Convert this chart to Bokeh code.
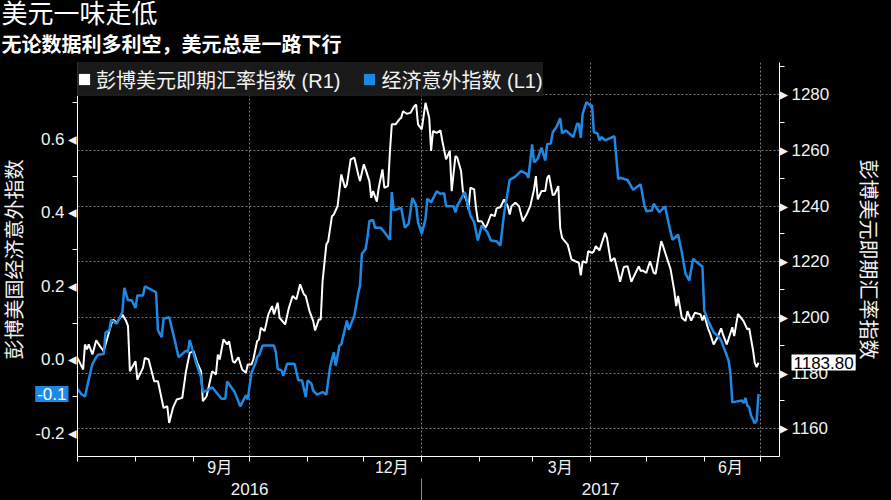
import pandas as pd
from bokeh.plotting import figure
from bokeh.models import (ColumnDataSource, Range1d, LinearAxis, DatetimeAxis, FixedTicker, Grid,
                          CustomJSTickFormatter, Legend, LegendItem, Label, Title)
from bokeh.embed import file_html
from bokeh.resources import INLINE

# Bloomberg dollar spot index (R1)
usd_dates = [
    "2016-07-01", "2016-07-04", "2016-07-05", "2016-07-06", "2016-07-07", "2016-07-09", "2016-07-11",
    "2016-07-13", "2016-07-15", "2016-07-17", "2016-07-19", "2016-07-20", "2016-07-22", "2016-07-25",
    "2016-07-27", "2016-07-28", "2016-07-29", "2016-08-01", "2016-08-02", "2016-08-05", "2016-08-06",
    "2016-08-08", "2016-08-11", "2016-08-13", "2016-08-16", "2016-08-18", "2016-08-19", "2016-08-21",
    "2016-08-23", "2016-08-26", "2016-08-28", "2016-08-30", "2016-09-01", "2016-09-03", "2016-09-05",
    "2016-09-06", "2016-09-08", "2016-09-11", "2016-09-13", "2016-09-14", "2016-09-15", "2016-09-17",
    "2016-09-19", "2016-09-20", "2016-09-22", "2016-09-23", "2016-09-25", "2016-09-27", "2016-09-29",
    "2016-09-30", "2016-10-02", "2016-10-03", "2016-10-05", "2016-10-06", "2016-10-07", "2016-10-09",
    "2016-10-11", "2016-10-13", "2016-10-14", "2016-10-16", "2016-10-17", "2016-10-20", "2016-10-22",
    "2016-10-24", "2016-10-26", "2016-10-28", "2016-10-30", "2016-10-31", "2016-11-02", "2016-11-04",
    "2016-11-05", "2016-11-07", "2016-11-08", "2016-11-09", "2016-11-11", "2016-11-12", "2016-11-14",
    "2016-11-15", "2016-11-17", "2016-11-19", "2016-11-21", "2016-11-22", "2016-11-24", "2016-11-26",
    "2016-11-28", "2016-11-29", "2016-12-01", "2016-12-02", "2016-12-04", "2016-12-05", "2016-12-06",
    "2016-12-08", "2016-12-09", "2016-12-11", "2016-12-12", "2016-12-14", "2016-12-15", "2016-12-16",
    "2016-12-18", "2016-12-20", "2016-12-21", "2016-12-22", "2016-12-24", "2016-12-26", "2016-12-28",
    "2016-12-29", "2016-12-30", "2017-01-01", "2017-01-03", "2017-01-05", "2017-01-06", "2017-01-07",
    "2017-01-09", "2017-01-11", "2017-01-12", "2017-01-14", "2017-01-16", "2017-01-17", "2017-01-19",
    "2017-01-20", "2017-01-22", "2017-01-23", "2017-01-25", "2017-01-26", "2017-01-27", "2017-01-29",
    "2017-01-30", "2017-01-31", "2017-02-02", "2017-02-04", "2017-02-05", "2017-02-07", "2017-02-09",
    "2017-02-10", "2017-02-12", "2017-02-14", "2017-02-16", "2017-02-17", "2017-02-18", "2017-02-20",
    "2017-02-22", "2017-02-24", "2017-02-26", "2017-02-28", "2017-03-02", "2017-03-03", "2017-03-04",
    "2017-03-06", "2017-03-08", "2017-03-09", "2017-03-10", "2017-03-12", "2017-03-13", "2017-03-15",
    "2017-03-16", "2017-03-17", "2017-03-20", "2017-03-22", "2017-03-24", "2017-03-26", "2017-03-27",
    "2017-03-28", "2017-03-30", "2017-03-31", "2017-04-02", "2017-04-03", "2017-04-04", "2017-04-06",
    "2017-04-09", "2017-04-10", "2017-04-12", "2017-04-14", "2017-04-16", "2017-04-17", "2017-04-19",
    "2017-04-21", "2017-04-23", "2017-04-24", "2017-04-27", "2017-04-28", "2017-04-29", "2017-05-01",
    "2017-05-03", "2017-05-05", "2017-05-06", "2017-05-09", "2017-05-10", "2017-05-12", "2017-05-14",
    "2017-05-16", "2017-05-17", "2017-05-18", "2017-05-20", "2017-05-22", "2017-05-23", "2017-05-25",
    "2017-05-27", "2017-05-30", "2017-05-31", "2017-06-01", "2017-06-03", "2017-06-04", "2017-06-06",
    "2017-06-08", "2017-06-10", "2017-06-11", "2017-06-13", "2017-06-16", "2017-06-17", "2017-06-19",
    "2017-06-22", "2017-06-24", "2017-06-25", "2017-06-27", "2017-06-28", "2017-06-29", "2017-06-30",
]
usd_values = [
    1185.5, 1181.3, 1190.3, 1188.5, 1190.3, 1186.7, 1191.8,
    1189.7, 1187.9, 1192.7, 1197.5, 1199.3, 1198.1, 1201.1,
    1198.7, 1196.9, 1180.7, 1184.3, 1177.7, 1181.9, 1185.5,
    1184.9, 1177.1, 1177.1, 1167.5, 1168.1, 1162.1, 1167.5,
    1170.5, 1171.1, 1180.7, 1187.3, 1187.9, 1183.7, 1180.7,
    1169.9, 1171.7, 1180.7, 1179.5, 1186.7, 1184.9, 1192.1,
    1190.3, 1191.5, 1184.3, 1183.7, 1185.7, 1181.3, 1180.1,
    1183.1, 1183.1, 1185.0, 1191.5, 1192.1, 1196.3, 1195.1,
    1201.1, 1204.1, 1201.1, 1205.3, 1199.9, 1197.5, 1203.5,
    1207.7, 1206.5, 1211.9, 1208.3, 1207.7, 1202.3, 1198.7,
    1195.3, 1199.3, 1199.3, 1213.1, 1226.2, 1227.4, 1236.4,
    1237.0, 1240.0, 1251.4, 1246.6, 1247.8, 1256.8, 1257.4,
    1251.4, 1249.0, 1255.0, 1253.2, 1249.0, 1243.0, 1245.4,
    1241.6, 1246.6, 1253.2, 1246.6, 1247.2, 1259.8, 1269.4,
    1269.4, 1271.2, 1271.7, 1274.1, 1273.2, 1273.5, 1275.9,
    1276.5, 1269.4, 1267.6, 1277.1, 1271.7, 1259.8, 1267.0,
    1266.3, 1267.2, 1263.4, 1256.8, 1259.8, 1245.4, 1258.0,
    1257.4, 1252.6, 1245.4, 1241.8, 1238.8, 1246.6, 1246.0,
    1239.4, 1234.6, 1234.6, 1232.2, 1233.4, 1237.0, 1236.4,
    1239.2, 1239.6, 1242.4, 1240.0, 1237.0, 1240.0, 1241.2,
    1240.0, 1234.6, 1237.0, 1240.0, 1246.0, 1250.8, 1242.4,
    1245.4, 1245.4, 1250.0, 1251.1, 1244.0, 1244.2, 1247.2,
    1232.2, 1228.6, 1226.2, 1220.9, 1220.2, 1219.6, 1215.1,
    1220.2, 1219.6, 1223.8, 1223.2, 1223.8, 1225.6, 1224.1,
    1230.4, 1228.6, 1220.2, 1221.4, 1216.0, 1212.8, 1218.1,
    1218.4, 1212.8, 1214.2, 1218.4, 1216.7, 1216.9, 1216.0,
    1220.2, 1216.0, 1215.7, 1227.4, 1225.6, 1221.4, 1217.3,
    1209.5, 1204.1, 1207.7, 1199.9, 1198.7, 1202.3, 1198.9,
    1201.7, 1201.1, 1198.9, 1200.8, 1196.1, 1194.5, 1190.3,
    1192.7, 1196.1, 1193.9, 1190.3, 1196.5, 1193.3, 1201.3,
    1198.7, 1195.7, 1196.1, 1188.5, 1183.7, 1182.2, 1183.8,
]

# Bloomberg US economic surprise index (L1)
surprise_dates = [
    "2016-07-01", "2016-07-03", "2016-07-05", "2016-07-07", "2016-07-09", "2016-07-11", "2016-07-12",
    "2016-07-15", "2016-07-16", "2016-07-18", "2016-07-19", "2016-07-22", "2016-07-25", "2016-07-26",
    "2016-07-28", "2016-07-30", "2016-08-01", "2016-08-02", "2016-08-05", "2016-08-06", "2016-08-12",
    "2016-08-13", "2016-08-15", "2016-08-16", "2016-08-19", "2016-08-22", "2016-08-24", "2016-08-28",
    "2016-08-29", "2016-08-30", "2016-09-02", "2016-09-05", "2016-09-06", "2016-09-08", "2016-09-11",
    "2016-09-16", "2016-09-18", "2016-09-19", "2016-09-23", "2016-09-26", "2016-09-29", "2016-09-30",
    "2016-10-02", "2016-10-04", "2016-10-05", "2016-10-06", "2016-10-08", "2016-10-14", "2016-10-15",
    "2016-10-16", "2016-10-18", "2016-10-19", "2016-10-21", "2016-10-25", "2016-10-27", "2016-10-29",
    "2016-10-31", "2016-11-01", "2016-11-03", "2016-11-04", "2016-11-06", "2016-11-09", "2016-11-11",
    "2016-11-13", "2016-11-15", "2016-11-16", "2016-11-18", "2016-11-19", "2016-11-22", "2016-11-23",
    "2016-11-26", "2016-11-28", "2016-11-29", "2016-11-30", "2016-12-02", "2016-12-03", "2016-12-04",
    "2016-12-06", "2016-12-07", "2016-12-10", "2016-12-12", "2016-12-15", "2016-12-16", "2016-12-17",
    "2016-12-21", "2016-12-23", "2016-12-25", "2016-12-27", "2016-12-29", "2016-12-30", "2017-01-01",
    "2017-01-03", "2017-01-04", "2017-01-06", "2017-01-09", "2017-01-11", "2017-01-13", "2017-01-14",
    "2017-01-18", "2017-01-19", "2017-01-20", "2017-01-24", "2017-01-26", "2017-01-27", "2017-01-29",
    "2017-01-31", "2017-02-02", "2017-02-05", "2017-02-07", "2017-02-10", "2017-02-12", "2017-02-14",
    "2017-02-17", "2017-02-20", "2017-02-23", "2017-02-26", "2017-02-27", "2017-03-01", "2017-03-02",
    "2017-03-04", "2017-03-06", "2017-03-08", "2017-03-09", "2017-03-11", "2017-03-12", "2017-03-14",
    "2017-03-16", "2017-03-17", "2017-03-19", "2017-03-23", "2017-03-25", "2017-03-26", "2017-03-27",
    "2017-03-28", "2017-03-30", "2017-04-01", "2017-04-02", "2017-04-03", "2017-04-05", "2017-04-06",
    "2017-04-07", "2017-04-09", "2017-04-14", "2017-04-16", "2017-04-17", "2017-04-21", "2017-04-24",
    "2017-04-28", "2017-04-30", "2017-05-01", "2017-05-04", "2017-05-05", "2017-05-08", "2017-05-11",
    "2017-05-13", "2017-05-15", "2017-05-18", "2017-05-20", "2017-05-22", "2017-05-24", "2017-05-26",
    "2017-05-28", "2017-05-31", "2017-06-01", "2017-06-03", "2017-06-06", "2017-06-08", "2017-06-10",
    "2017-06-14", "2017-06-15", "2017-06-16", "2017-06-21", "2017-06-22", "2017-06-23", "2017-06-24",
    "2017-06-25", "2017-06-26", "2017-06-28", "2017-06-29", "2017-06-30",
]
surprise_values = [
    -0.079, -0.093, -0.100, -0.054, -0.011, 0.007, 0.014,
    0.016, 0.075, 0.080, 0.109, 0.098, 0.130, 0.196,
    0.162, 0.162, 0.141, 0.175, 0.175, 0.200, 0.184,
    0.080, 0.062, 0.112, 0.116, 0.053, 0.007, 0.025,
    0.021, 0.054, -0.002, -0.047, -0.088, -0.084, -0.075,
    -0.106, -0.106, -0.059, -0.088, -0.127, -0.097, -0.108,
    -0.035, -0.011, 0.007, 0.012, 0.039, 0.039, 0.021,
    -0.025, -0.029, -0.043, -0.011, -0.011, -0.056, -0.056,
    -0.102, -0.056, -0.065, -0.084, -0.095, -0.088, -0.095,
    -0.020, 0.021, -0.016, 0.039, 0.042, 0.107, 0.082,
    0.121, 0.180, 0.202, 0.289, 0.302, 0.334, 0.378,
    0.381, 0.360, 0.360, 0.348, 0.327, 0.457, 0.407,
    0.414, 0.360, 0.371, 0.441, 0.420, 0.375, 0.343,
    0.384, 0.439, 0.429, 0.459, 0.452, 0.454, 0.418,
    0.418, 0.402, 0.420, 0.457, 0.416, 0.393, 0.375,
    0.325, 0.366, 0.348, 0.325, 0.323, 0.311, 0.398,
    0.490, 0.499, 0.514, 0.507, 0.496, 0.587, 0.538,
    0.548, 0.578, 0.543, 0.587, 0.589, 0.620, 0.634,
    0.658, 0.617, 0.625, 0.607, 0.643, 0.643, 0.605,
    0.670, 0.702, 0.693, 0.693, 0.620, 0.616, 0.598,
    0.607, 0.598, 0.609, 0.493, 0.496, 0.490, 0.463,
    0.478, 0.420, 0.405, 0.407, 0.425, 0.402, 0.418,
    0.371, 0.327, 0.341, 0.293, 0.234, 0.216, 0.275,
    0.266, 0.254, 0.134, 0.107, 0.075, 0.066, 0.053,
    -0.002, -0.038, -0.116, -0.111, -0.118, -0.104, -0.125,
    -0.129, -0.152, -0.173, -0.165, -0.093,
]

# axes / ticks
month_starts = ["2016-07-01", "2016-08-01", "2016-09-01", "2016-10-01", "2016-11-01", "2016-12-01",
                "2017-01-01", "2017-02-01", "2017-03-01", "2017-04-01", "2017-05-01", "2017-06-01",
                "2017-07-01"]
quarter_starts = ["2016-10-01", "2017-01-01", "2017-04-01", "2017-07-01"]
month_label_dates = ["2016-09-15", "2016-12-16", "2017-03-16", "2017-06-15"]
month_labels = ["9月", "12月", "3月", "6月"]
year_labels = ["2016", "2017"]
surprise_ticks = [-0.2, 0.0, 0.2, 0.4, 0.6]
surprise_minor = [-0.1, 0.1, 0.3, 0.5, 0.7]
usd_ticks = [1160, 1180, 1200, 1220, 1240, 1260, 1280]
usd_minor = [1170, 1190, 1210, 1230, 1250, 1270, 1290]

BLUE = "#1e88e5"
TXT = "#f2f2f2"
GRID = "#7a7a7a"
FONT = "Liberation Sans, Noto Sans CJK SC"
TRI_FONT = "Liberation Sans, DejaVu Sans"
TAG_W_LEFT = 33     # width the left value tag takes in its side panel
TAG_W_RIGHT = 65    # width the right value tag takes in its side panel


def ms(dates):
    d = pd.to_datetime(dates) - pd.Timestamp("1970-01-01")
    return [int(v) for v in d // pd.Timedelta(milliseconds=1)]


x_start = ms(["2016-07-01"])[0]
x_end = ms(["2017-07-11 05:00"])[0]
new_year = ms(["2017-01-01"])[0]
year_centers = [(x_start + new_year) // 2, (new_year + x_end) // 2]

p = figure(width=891, height=500, x_range=Range1d(x_start, x_end), y_range=Range1d(-0.2635, 0.81),
           x_axis_type=None, y_axis_type=None,
           output_backend="svg", toolbar_location=None,
           background_fill_color="black", border_fill_color="black", outline_line_color=None,
           min_border_left=77, min_border_right=112, min_border_top=62, min_border_bottom=44)
p.grid.visible = False
p.extra_y_ranges = {"usd": Range1d(1150.05, 1291.6)}

# grid
p.add_layout(Grid(dimension=0, ticker=FixedTicker(ticks=ms(quarter_starts)),
                  grid_line_color=GRID, grid_line_dash="2 2", grid_line_width=1))
p.add_layout(Grid(dimension=1, ticker=FixedTicker(ticks=usd_ticks), y_range_name="usd",
                  grid_line_color=GRID, grid_line_dash="2 2", grid_line_width=1))

# lines
usd_src = ColumnDataSource(data=dict(date=pd.to_datetime(usd_dates), value=usd_values))
sur_src = ColumnDataSource(data=dict(date=pd.to_datetime(surprise_dates), value=surprise_values))
p.line('date', 'value', source=usd_src, y_range_name="usd", color="white", line_width=2)
p.line('date', 'value', source=sur_src, color=BLUE, line_width=2.5)


def edge_axis(range_name, minor):
    # axis line + minor ticks only, sits right at the frame
    ax = LinearAxis(y_range_name=range_name, ticker=FixedTicker(ticks=[], minor_ticks=minor))
    ax.axis_line_color = "white"
    ax.major_tick_line_color = None
    ax.major_tick_out = 0
    ax.major_tick_in = 0
    ax.minor_tick_line_color = "white"
    ax.minor_tick_out = 5
    ax.minor_tick_in = 0
    ax.major_label_standoff = 0
    return ax


def label_axis(range_name, ticks, code, title, tag_w):
    # tick labels + axis title; pulled back over the value tag's panel
    ax = LinearAxis(y_range_name=range_name, ticker=FixedTicker(ticks=ticks),
                    formatter=CustomJSTickFormatter(code=code), axis_label=title)
    ax.axis_line_color = None
    ax.major_tick_line_color = None
    ax.minor_tick_line_color = None
    ax.major_tick_out = 0
    ax.major_tick_in = 0
    ax.minor_tick_out = 0
    ax.minor_tick_in = 0
    ax.major_label_standoff = -4 - tag_w
    ax.major_label_text_color = TXT
    ax.major_label_text_font = TRI_FONT
    ax.major_label_text_font_size = "17px"
    ax.axis_label_text_color = TXT
    ax.axis_label_text_font = FONT
    ax.axis_label_text_font_size = "20px"
    ax.axis_label_text_font_style = "normal"
    return ax


# left side: edge, value tag, labels
p.add_layout(edge_axis("default", surprise_minor), "left")
p.add_layout(Label(x=x_start, y=surprise_values[-1], text="%.1f" % surprise_values[-1],
                   x_offset=-9, text_align="right", text_baseline="middle", text_color="white",
                   text_font="Liberation Sans", text_font_size="17px",
                   background_fill_color=BLUE, padding=2), "left")
left = label_axis("default", surprise_ticks, 'return tick.toFixed(1) + "\u2009\u25c2"',
                  "彭博美国经济意外指数", TAG_W_LEFT)
left.axis_label_standoff = 6
p.add_layout(left, "left")

# right side: edge, value tag, labels
p.add_layout(edge_axis("usd", usd_minor), "right")
p.add_layout(Label(x=x_end, y=usd_values[-1], y_range_name="usd", text="%.2f" % usd_values[-1],
                   x_offset=12, text_align="left", text_baseline="middle", text_color="black",
                   text_font="Liberation Sans", text_font_size="17px",
                   background_fill_color="white", padding=2), "right")
right = label_axis("usd", usd_ticks, 'return "\u25b8\u2009" + tick.toFixed(0)',
                   "彭博美元即期汇率指数", TAG_W_RIGHT)
right.axis_label_standoff = 25
p.add_layout(right, "right")

# bottom: months
months = DatetimeAxis(ticker=FixedTicker(ticks=ms(month_label_dates), minor_ticks=ms(month_starts)),
                      formatter=CustomJSTickFormatter(args=dict(labels=month_labels), code="return labels[index]"))
months.axis_line_color = "white"
months.major_tick_line_color = None
months.major_tick_out = 0
months.major_tick_in = 0
months.minor_tick_line_color = "white"
months.minor_tick_out = 5
months.minor_tick_in = 0
months.major_label_standoff = -3
months.major_label_text_color = TXT
months.major_label_text_font = FONT
months.major_label_text_font_size = "16px"
p.add_layout(months, "below")

# bottom: years, with the year separator as a long minor tick
years = DatetimeAxis(ticker=FixedTicker(ticks=year_centers, minor_ticks=[new_year]),
                     formatter=CustomJSTickFormatter(args=dict(labels=year_labels), code="return labels[index]"))
years.axis_line_color = None
years.major_tick_line_color = None
years.major_tick_out = 0
years.major_tick_in = 0
years.minor_tick_line_color = "#8a8a8a"
years.minor_tick_out = 22
years.minor_tick_in = 0
years.major_label_standoff = -18
years.major_label_text_color = TXT
years.major_label_text_font = "Liberation Sans"
years.major_label_text_font_size = "17px"
p.add_layout(years, "below")

# legend with square keys
nan = float("nan")
usd_key = p.quad(left=[nan], right=[nan], top=[nan], bottom=[nan], fill_color="white", line_color=None)
sur_key = p.quad(left=[nan], right=[nan], top=[nan], bottom=[nan], fill_color=BLUE, line_color=None)
legend = Legend(items=[LegendItem(label="彭博美元即期汇率指数 (R1)", renderers=[usd_key]),
                       LegendItem(label="经济意外指数 (L1)", renderers=[sur_key])],
                location="top_left", orientation="horizontal", margin=0, padding=10, spacing=22,
                glyph_width=14, glyph_height=14, label_standoff=5, label_height=34,
                background_fill_color="#1c1c1c", background_fill_alpha=0.92, border_line_color=None,
                label_text_color=TXT, label_text_font=FONT, label_text_font_size="20px")
p.add_layout(legend)

# titles
p.add_layout(Title(text="无论数据利多利空，美元总是一路下行", text_font=FONT, text_font_size="20px",
                   text_font_style="bold", text_color="white", align="left", offset=-76, standoff=14), "above")
p.add_layout(Title(text="美元一味走低", text_font=FONT, text_font_size="26px",
                   text_font_style="normal", text_color="white", align="left", offset=-76, standoff=-9), "above")

html = file_html(p, INLINE, title="美元一味走低")
html = html.replace("<head>", "<head><style>body{background:#000000;margin:0;}</style>", 1)
open("out.html", "w", encoding="utf-8").write(html)
